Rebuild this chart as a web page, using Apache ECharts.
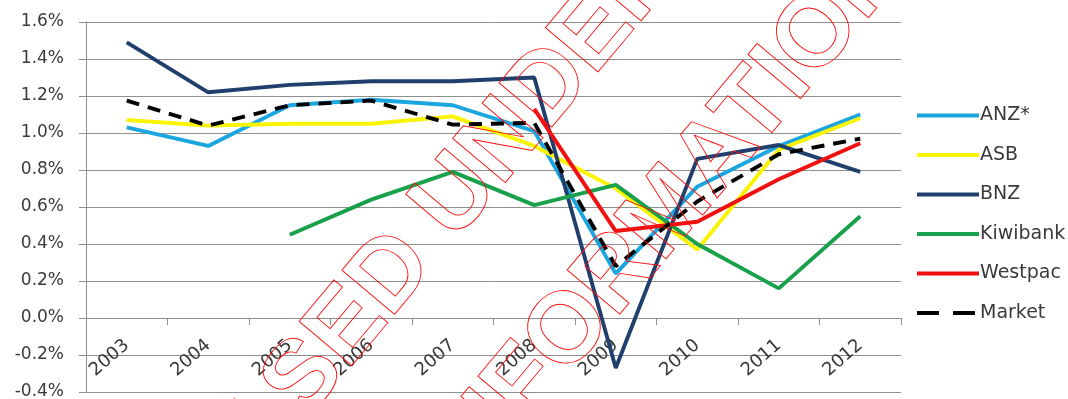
<!DOCTYPE html>
<html>
<head>
<meta charset="utf-8">
<script src="https://cdn.jsdelivr.net/npm/echarts@6/dist/echarts.min.js"></script>
<style>
  html, body { margin: 0; padding: 0; background: #ffffff; }
  #chart { width: 1068px; height: 399px; }
</style>
</head>
<body>
<div id="chart"></div>
<script>
// Yearly margin (% of assets) by bank, 2003-2012
const years = ['2003', '2004', '2005', '2006', '2007', '2008', '2009', '2010', '2011', '2012'];
const anz      = [1.03, 0.93, 1.15, 1.18, 1.15, 1.01, 0.24, 0.71, 0.93, 1.10];
const asb      = [1.07, 1.04, 1.05, 1.05, 1.09, 0.93, 0.70, 0.37, 0.91, 1.08];
const bnz      = [1.49, 1.22, 1.26, 1.28, 1.28, 1.30, -0.27, 0.86, 0.935, 0.79];
const kiwibank = [null, null, 0.45, 0.64, 0.79, 0.61, 0.72, 0.40, 0.16, 0.55];
const westpac  = [null, null, null, null, null, 1.13, 0.47, 0.52, 0.75, 0.945];
const market   = [1.175, 1.04, 1.15, 1.175, 1.045, 1.055, 0.28, 0.63, 0.885, 0.97];

const seriesNames = ['ANZ*', 'ASB', 'BNZ', 'Kiwibank', 'Westpac', 'Market'];
const seriesColors = ['#1ba6df', '#fbf400', '#213f6d', '#18a04a', '#f01010', '#000000'];
const seriesData = [anz, asb, bnz, kiwibank, westpac, market];

// Stamp text overlaid across the plot
const stampLines = ['RELEASED UNDER THE', 'OFFICIAL INFORMATION ACT'];

const FONT = '"DejaVu Sans", sans-serif';
const TEXT_COLOR = '#3a3a3a';
const GRID_COLOR = '#8f8f8f';

const Y_MIN = -0.4, Y_MAX = 1.6;
const GRID_TOP = 22, GRID_BOTTOM = 7, CHART_H = 399;

const chart = echarts.init(document.getElementById('chart'), null, { renderer: 'canvas' });

const series = seriesData.map((d, i) => ({
  name: seriesNames[i],
  type: 'line',
  data: d,
  symbol: 'none',
  smooth: false,
  connectNulls: false,
  z: 2 + i,
  lineStyle: {
    color: seriesColors[i],
    width: 3.9,
    type: seriesNames[i] === 'Market' ? [13, 9] : 'solid',
    cap: 'butt'
  },
  itemStyle: { color: seriesColors[i] }
}));

// the category axis sits on the zero line: lift it from the grid bottom
const plotH = CHART_H - GRID_TOP - GRID_BOTTOM;
const zeroLift = plotH * (0 - Y_MIN) / (Y_MAX - Y_MIN);

// stamp: rotated outline text
const stampAngle = 50 * Math.PI / 180;
const stampCenters = [[437, 221], [583, 315]];

const option = {
  backgroundColor: '#ffffff',
  animation: false,
  grid: { left: 86, right: 167, top: GRID_TOP, bottom: GRID_BOTTOM, containLabel: false, outerBoundsMode: 'none' },
  legend: {
    orient: 'vertical',
    left: 910,
    top: 101,
    itemWidth: 62,
    itemHeight: 14,
    itemGap: 20.5,
    itemStyle: { opacity: 0 },
    lineStyle: { width: 4 },
    textStyle: { fontFamily: FONT, fontSize: 19, color: TEXT_COLOR, padding: [0, 0, 0, -4] },
    data: seriesNames.map(n => n === 'Market'
      ? { name: n, lineStyle: { type: [22, 14], width: 4 } }
      : { name: n })
  },
  xAxis: {
    type: 'category',
    data: years,
    boundaryGap: true,
    offset: -zeroLift,
    axisLine: { show: true, onZero: false, lineStyle: { color: GRID_COLOR, width: 1 } },
    axisTick: { show: true, length: 7, lineStyle: { color: GRID_COLOR } },
    axisLabel: {
      rotate: 41,
      margin: 25,
      fontFamily: FONT,
      fontSize: 18,
      color: TEXT_COLOR
    },
    splitLine: { show: false }
  },
  yAxis: {
    type: 'value',
    min: Y_MIN,
    max: Y_MAX,
    interval: 0.2,
    axisLine: { show: true, lineStyle: { color: GRID_COLOR, width: 1 } },
    axisTick: { show: true, length: 7, lineStyle: { color: GRID_COLOR } },
    axisLabel: {
      margin: 22,
      fontFamily: FONT,
      fontSize: 17,
      color: TEXT_COLOR,
      formatter: v => v.toFixed(1) + '%'
    },
    splitLine: { show: true, lineStyle: { color: GRID_COLOR, width: 1 } }
  },
  series: series,
  graphic: stampLines.map((t, i) => ({
    type: 'text',
    x: stampCenters[i][0],
    y: stampCenters[i][1],
    rotation: stampAngle,
    z: 100,
    silent: true,
    style: {
      text: t,
      font: 'bold 100px "Liberation Sans", Arial, sans-serif',
      fill: 'none',
      stroke: '#ff1010',
      lineWidth: 0.9,
      align: 'center',
      verticalAlign: 'middle'
    }
  }))
};

chart.setOption(option);
</script>
</body>
</html>
